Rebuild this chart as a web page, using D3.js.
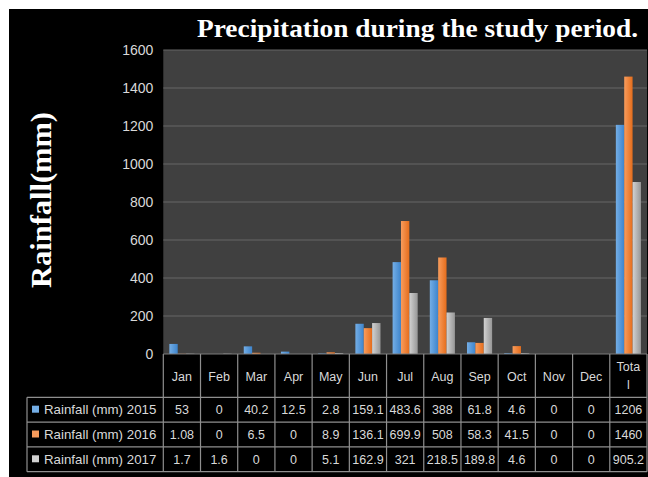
<!DOCTYPE html>
<html>
<head>
<meta charset="utf-8">
<script src="https://cdn.jsdelivr.net/npm/d3@7"></script>
<style>
  body { margin: 0; background: #fff; }
  svg { display: block; }
</style>
</head>
<body>
<div id="chart"></div>
<script>
// Data
const months = ["Jan", "Feb", "Mar", "Apr", "May", "Jun", "Jul", "Aug", "Sep", "Oct", "Nov", "Dec", "Total"];
const seriesNames = ["Rainfall (mm) 2015", "Rainfall (mm) 2016", "Rainfall (mm) 2017"];
const rain2015 = [53, 0, 40.2, 12.5, 2.8, 159.1, 483.6, 388, 61.8, 4.6, 0, 0, 1206];
const rain2016 = [1.08, 0, 6.5, 0, 8.9, 136.1, 699.9, 508, 58.3, 41.5, 0, 0, 1460];
const rain2017 = [1.7, 1.6, 0, 0, 5.1, 162.9, 321, 218.5, 189.8, 4.6, 0, 0, 905.2];
const yTicks = [0, 200, 400, 600, 800, 1000, 1200, 1400, 1600];
const seriesValues = [rain2015, rain2016, rain2017];

const colors = [
  ["#74aee6", "#3d84cc"],
  ["#f89c5c", "#e56d1c"],
  ["#d2d2d2", "#979797"]
];

const width = 648, height = 477;
const plot = { left: 163.3, right: 647, top: 50, bottom: 354 };
const rowH = 24.8;
const headerBottom = 397.3;

const svg = d3.select("#chart").append("svg")
  .attr("width", width)
  .attr("height", height);

// gradients for bars
const defs = svg.append("defs");
colors.forEach((c, i) => {
  const gr = defs.append("linearGradient")
    .attr("id", "grad" + i)
    .attr("x1", "0%").attr("x2", "100%").attr("y1", "0%").attr("y2", "0%");
  gr.append("stop").attr("offset", "0%").attr("stop-color", c[0]);
  gr.append("stop").attr("offset", "100%").attr("stop-color", c[1]);
});

// background
svg.append("rect").attr("width", width).attr("height", height).attr("fill", "#fff");
svg.append("rect").attr("x", 9).attr("y", 9).attr("width", width - 9).attr("height", height - 9).attr("fill", "#000");

// scales
const x0 = d3.scaleBand()
  .domain(months)
  .range([plot.left, plot.right])
  .paddingInner(0.325)
  .paddingOuter(0.1625);

const x1 = d3.scaleBand()
  .domain(d3.range(seriesNames.length))
  .range([0, x0.bandwidth()]);

const y = d3.scaleLinear()
  .domain([0, 1600])
  .range([plot.bottom, plot.top]);

// plot area
svg.append("rect")
  .attr("x", plot.left).attr("y", plot.top)
  .attr("width", plot.right - plot.left).attr("height", plot.bottom - plot.top)
  .attr("fill", "#404040");

// gridlines
svg.append("g").selectAll("line")
  .data(yTicks.filter(d => d > 0))
  .join("line")
  .attr("x1", plot.left).attr("x2", plot.right)
  .attr("y1", d => y(d)).attr("y2", d => y(d))
  .attr("stroke", "#676767").attr("stroke-width", 1);

// y axis labels
const yAxis = svg.append("g")
  .attr("transform", `translate(${plot.left - 10},0)`)
  .call(d3.axisLeft(y).tickValues(yTicks).tickFormat(d3.format("d")).tickSize(0).tickPadding(0));
yAxis.select(".domain").remove();
yAxis.selectAll("text")
  .attr("fill", "#d9d9d9")
  .attr("font-family", "'Liberation Sans', Arial, sans-serif")
  .attr("font-size", 14);

// bars
const groups = svg.append("g").selectAll("g")
  .data(months)
  .join("g")
  .attr("transform", d => `translate(${x0(d)},0)`);

groups.selectAll("rect")
  .data((m, mi) => seriesValues.map((vals, si) => ({ si, v: vals[mi] })))
  .join("rect")
  .attr("x", d => x1(d.si))
  .attr("y", d => y(d.v))
  .attr("width", x1.bandwidth())
  .attr("height", d => y(0) - y(d.v))
  .attr("fill", d => `url(#grad${d.si})`);

// x axis line
svg.append("line")
  .attr("x1", plot.left).attr("x2", plot.right)
  .attr("y1", plot.bottom).attr("y2", plot.bottom)
  .attr("stroke", "#7a7a7a").attr("stroke-width", 1.2);

// data table
const step = x0.step();
const colEdges = months.map((m, i) => plot.left + i * step).concat([plot.right]);
const table = svg.append("g");
const lineColor = "#8f8f8f";
const tableFont = "'Liberation Sans', Arial, sans-serif";

// vertical lines
table.selectAll("line.v")
  .data(colEdges)
  .join("line")
  .attr("class", "v")
  .attr("x1", d => d).attr("x2", d => d)
  .attr("y1", plot.bottom).attr("y2", headerBottom + rowH * 3)
  .attr("stroke", lineColor).attr("stroke-width", 1.2);

// horizontal lines
table.selectAll("line.h")
  .data(d3.range(4))
  .join("line")
  .attr("class", "h")
  .attr("x1", 27).attr("x2", plot.right)
  .attr("y1", i => headerBottom + i * rowH).attr("y2", i => headerBottom + i * rowH)
  .attr("stroke", lineColor).attr("stroke-width", 1.2);

table.append("line")
  .attr("x1", 27).attr("x2", 27)
  .attr("y1", headerBottom).attr("y2", headerBottom + rowH * 3)
  .attr("stroke", lineColor).attr("stroke-width", 1.2);

// header labels
months.forEach((m, i) => {
  const cx = colEdges[i] + step / 2;
  const t = table.append("text")
    .attr("x", cx)
    .attr("text-anchor", "middle")
    .attr("fill", "#d9d9d9")
    .attr("font-family", tableFont)
    .attr("font-size", 12.5);
  if (m === "Total") {
    t.append("tspan").attr("x", cx).attr("y", 371).text("Tota");
    t.append("tspan").attr("x", cx).attr("y", 389).text("l");
  } else {
    t.attr("y", 381).text(m);
  }
});

// series rows
seriesNames.forEach((name, si) => {
  const yc = headerBottom + si * rowH + rowH / 2;
  table.append("rect")
    .attr("x", 32).attr("y", yc - 4)
    .attr("width", 7).attr("height", 7)
    .attr("fill", colors[si][0]);
  table.append("text")
    .attr("x", 44).attr("y", yc + 4.5)
    .attr("fill", "#d9d9d9")
    .attr("font-family", tableFont)
    .attr("font-size", 13.3)
    .text(name);
  seriesValues[si].forEach((v, i) => {
    table.append("text")
      .attr("x", colEdges[i] + step / 2)
      .attr("y", yc + 4.5)
      .attr("text-anchor", "middle")
      .attr("fill", "#d9d9d9")
      .attr("font-family", tableFont)
      .attr("font-size", 12.5)
      .text(v);
  });
});

// title
svg.append("text")
  .attr("x", 197).attr("y", 37)
  .attr("fill", "#fff")
  .attr("font-family", "'Liberation Serif', 'Times New Roman', serif")
  .attr("font-weight", "bold")
  .attr("font-size", 26)
  .attr("textLength", 441)
  .attr("lengthAdjust", "spacingAndGlyphs")
  .text("Precipitation during the study period.");

// y axis title
svg.append("text")
  .attr("transform", "translate(51,288) rotate(-90)")
  .attr("fill", "#fff")
  .attr("font-family", "'Liberation Serif', 'Times New Roman', serif")
  .attr("font-weight", "bold")
  .attr("font-size", 29)
  .attr("textLength", 176)
  .attr("lengthAdjust", "spacingAndGlyphs")
  .text("Rainfall(mm)");
</script>
</body>
</html>
